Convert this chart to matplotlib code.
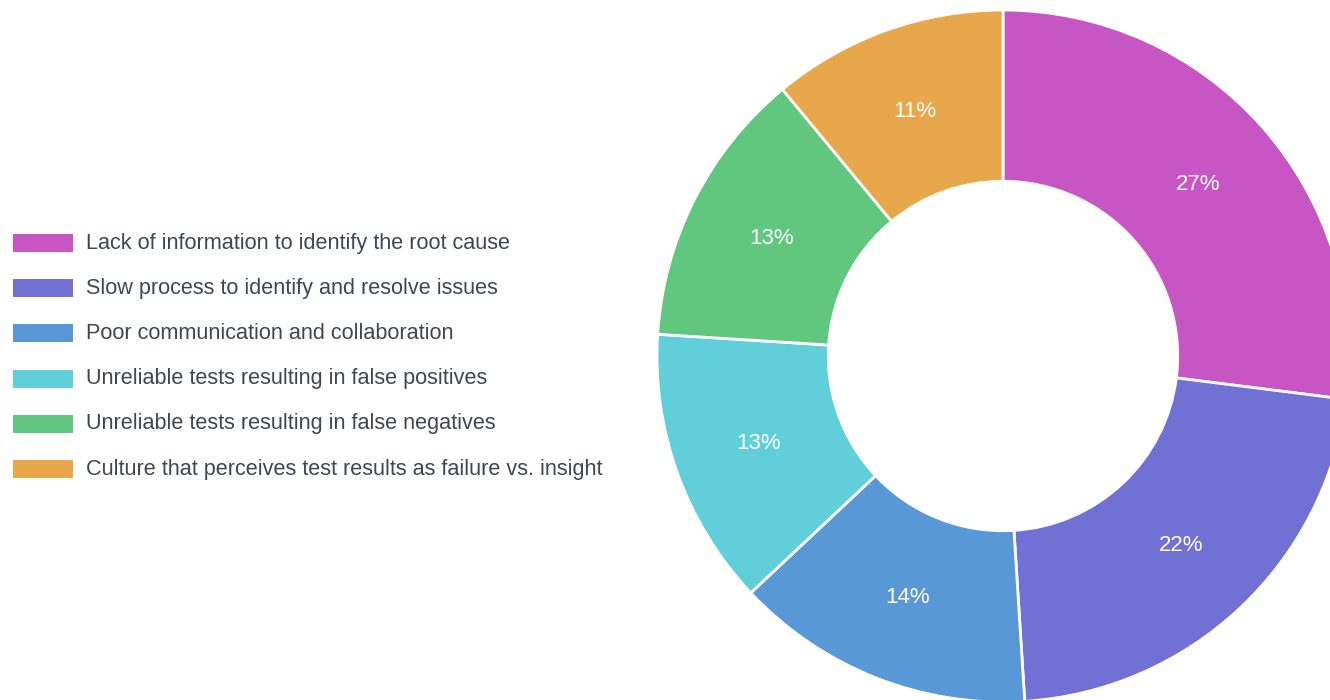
import matplotlib.pyplot as plt
from matplotlib.patches import Rectangle

plt.rcParams['font.family'] = ['Liberation Sans', 'DejaVu Sans']

labels = [
    "Lack of information to identify the root cause",
    "Slow process to identify and resolve issues",
    "Poor communication and collaboration",
    "Unreliable tests resulting in false positives",
    "Unreliable tests resulting in false negatives",
    "Culture that perceives test results as failure vs. insight",
]
shares = [27, 22, 14, 13, 13, 11]
colors = ["#C855C4", "#7170D4", "#5898D6", "#61CFDA", "#61C77E", "#E8A74A"]

W, H = 1330, 700
fig = plt.figure(figsize=(W / 100, H / 100), dpi=100)

# donut: centre (1003, 356) px, outer radius 346 px
cx, cy, r = 1003, 356, 346
ax = fig.add_axes([(cx - r) / W, (H - cy - r) / H, 2 * r / W, 2 * r / H])
wedges, texts, autotexts = ax.pie(
    shares, colors=colors, startangle=90, counterclock=False,
    radius=1, autopct='%d%%', pctdistance=0.75,
    wedgeprops=dict(width=0.495, edgecolor='white', linewidth=2),
    textprops=dict(color='white', fontsize=16),
)
ax.set_xlim(-1, 1)
ax.set_ylim(-1, 1)
ax.set_aspect('equal')
ax.axis('off')

# legend drawn by hand
y0, dy = 243, 45.2
for i, (lab, c) in enumerate(zip(labels, colors)):
    y = y0 + i * dy
    fig.patches.append(Rectangle((13 / W, (H - y - 9) / H), 60 / W, 18 / H,
                                 transform=fig.transFigure, facecolor=c,
                                 edgecolor='none'))
    fig.text(86 / W, (H - y) / H, lab, fontsize=15.6, color='#3E4656',
             va='center', ha='left')

fig.savefig('out.png', dpi=100)
